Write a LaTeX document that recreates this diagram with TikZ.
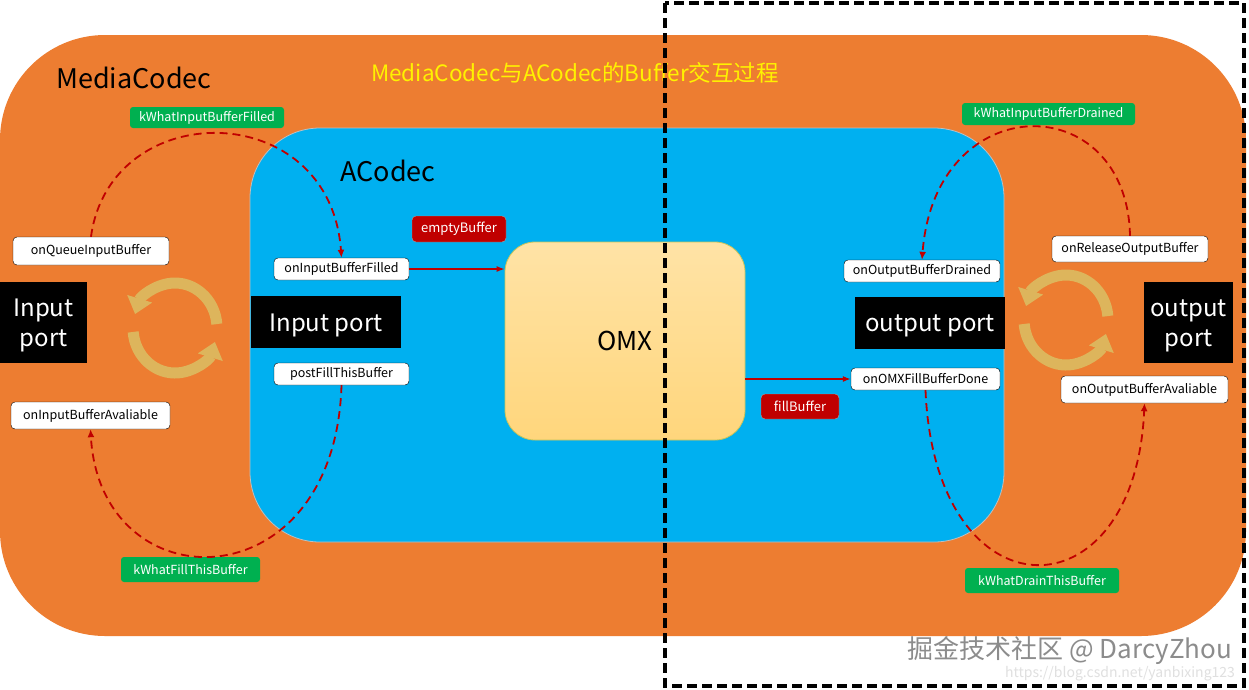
\documentclass[tikz,border=0pt]{standalone}
\usepackage{fontspec}
\setmainfont{Noto Sans CJK SC}
\usetikzlibrary{arrows.meta}
\definecolor{mcorange}{HTML}{ED7D31}
\definecolor{acblue}{HTML}{00B0F0}
\definecolor{msggreen}{HTML}{00B050}
\definecolor{callred}{HTML}{C00000}
\definecolor{cycgold}{HTML}{DDB55C}
\definecolor{omxtop}{HTML}{FFE3A6}
\definecolor{omxbot}{HTML}{FFD67C}
\definecolor{omxline}{HTML}{C8C45A}
\newcommand{\px}[1]{\fontsize{#1}{#1}\selectfont}
\newcommand{\low}[1]{\raisebox{-3pt}[\height][\depth]{#1}}

\begin{document}
\begin{tikzpicture}[x=1pt,y=-1pt,
	fnbox/.style={draw=black,fill=white,rounded corners=4pt,inner sep=0pt,font=\px{12.5}},
	msgbox/.style={fill=msggreen,text=white,rounded corners=3pt,inner sep=0pt,font=\px{12.5}},
	callbox/.style={fill=callred,draw=gray!70,text=white,rounded corners=4pt,inner sep=0pt,font=\px{13}},
	portbox/.style={fill=black,text=white,inner sep=0pt,align=center,font=\fontsize{24}{28}\selectfont},
	flow/.style={callred,line width=1.8pt,dash pattern=on 8pt off 5pt,-{Latex[length=8pt,width=7pt]}},
	call/.style={callred,line width=1.3pt,-{Latex[length=8pt,width=6pt]}},
	cyc/.style={cycgold,line width=11pt,-{Triangle[length=16pt,width=25pt]}}]
	\useasboundingbox (0,0) rectangle (1249,689);
	\fill[white] (0,0) rectangle (1249,689);
	% MediaCodec and ACodec areas
	\fill[mcorange,rounded corners=105pt] (0,35) rectangle (1246,636);
	\filldraw[fill=acblue,draw=black!25,line width=0.8pt,rounded corners=70pt] (250,128) rectangle (1004,542);
	\node[font=\px{27}] (mc) at (134,78) {MediaCodec};
	\node[font=\px{27}] (ac) at (388,171) {ACodec};
	\node[text=yellow,font=\px{22.5}] (title) at (575,73) {MediaCodec与ACodec的Buffer交互过程};
	\node[draw=omxline,line width=0.8pt,top color=omxtop,bottom color=omxbot,rounded corners=30pt,
		minimum width=240pt,minimum height=198pt,font=\px{26}] (omx) at (625,341) {OMX};
	% ports
	\node[portbox,minimum width=87pt,minimum height=81pt] (inL) at (43.5,322.5) {\low{Input}\\[2pt]\low{port}};
	\node[portbox,minimum width=150pt,minimum height=52pt] (inR) at (326,322) {\low{Input port}};
	\node[portbox,minimum width=150pt,minimum height=52pt] (outL) at (930,323) {\low{output port}};
	\node[portbox,minimum width=89pt,minimum height=81pt] (outR) at (1188.5,322.5) {\low{output}\\[2pt]\low{port}};
	% function boxes
	\node[fnbox,minimum width=156pt,minimum height=28pt] (qin) at (91,251) {onQueueInputBuffer};
	\node[fnbox,minimum width=135pt,minimum height=22pt] (ifill) at (341.5,269) {onInputBufferFilled};
	\node[fnbox,minimum width=135pt,minimum height=22pt] (pfill) at (341.5,374) {postFillThisBuffer};
	\node[fnbox,minimum width=159pt,minimum height=27pt] (iavail) at (90.5,415.5) {onInputBufferAvaliable};
	\node[fnbox,minimum width=156pt,minimum height=22pt] (odrain) at (922,271) {onOutputBufferDrained};
	\node[fnbox,minimum width=156pt,minimum height=26pt] (orel) at (1130,249) {onReleaseOutputBuffer};
	\node[fnbox,minimum width=149pt,minimum height=22pt] (ofill) at (925.5,379) {onOMXFillBufferDone};
	\node[fnbox,minimum width=167pt,minimum height=27pt] (oavail) at (1144.5,389.5) {onOutputBufferAvaliable};
	% messages
	\node[msgbox,minimum width=154pt,minimum height=21pt] (mifill) at (207,117.5) {kWhatInputBufferFilled};
	\node[msgbox,minimum width=173pt,minimum height=22pt] (midrain) at (1048.5,114) {kWhatInputBufferDrained};
	\node[msgbox,minimum width=139pt,minimum height=25pt] (mfill) at (190.5,569.5) {kWhatFillThisBuffer};
	\node[msgbox,minimum width=154pt,minimum height=25pt] (mdrain) at (1042,580.5) {kWhatDrainThisBuffer};
	% OMX calls
	\node[callbox,minimum width=94pt,minimum height=26pt] (empty) at (459,229) {emptyBuffer};
	\node[callbox,minimum width=78pt,minimum height=25pt] (fillb) at (800,406.5) {fillBuffer};
	\draw[call] (ifill.east) -- (ifill.east -| omx.west);
	\draw[call] (ofill.west -| omx.east) -- (ofill.west);
	% buffer loops
	\draw[flow] (qin.north) .. controls (110,96) and (330,96) .. (ifill.north);
	\draw[flow] (pfill.south) .. controls (335,605) and (100,605) .. (iavail.south);
	\draw[flow] (ofill.south) .. controls (935,620) and (1135,620) .. (oavail.south);
	\draw[flow] (orel.north) .. controls (1127,87) and (935,87) .. (odrain.north);
	% cycle arrows
	\draw[cyc] (175,328) ++(-5:42 and 45) arc[start angle=-5,end angle=-162,x radius=42,y radius=45];
	\draw[cyc] (175,328) ++(175:42 and 45) arc[start angle=175,end angle=18,x radius=42,y radius=45];
	\draw[cyc] (1066,320) ++(-5:42 and 45) arc[start angle=-5,end angle=-162,x radius=42,y radius=45];
	\draw[cyc] (1066,320) ++(175:42 and 45) arc[start angle=175,end angle=18,x radius=42,y radius=45];
	% dashed frame
	\draw[line width=3.5pt,dash pattern=on 10pt off 5pt] (665,3) rectangle (1244,686);
	\node[text=black!45,font=\px{26}] (mark) at (1070,650) {掘金技术社区 @ DarcyZhou};
	\node[text=black!12,font=\px{14}] (url) at (1120,674) {https://blog.csdn.net/yanbixing123};
\end{tikzpicture}
\end{document}
